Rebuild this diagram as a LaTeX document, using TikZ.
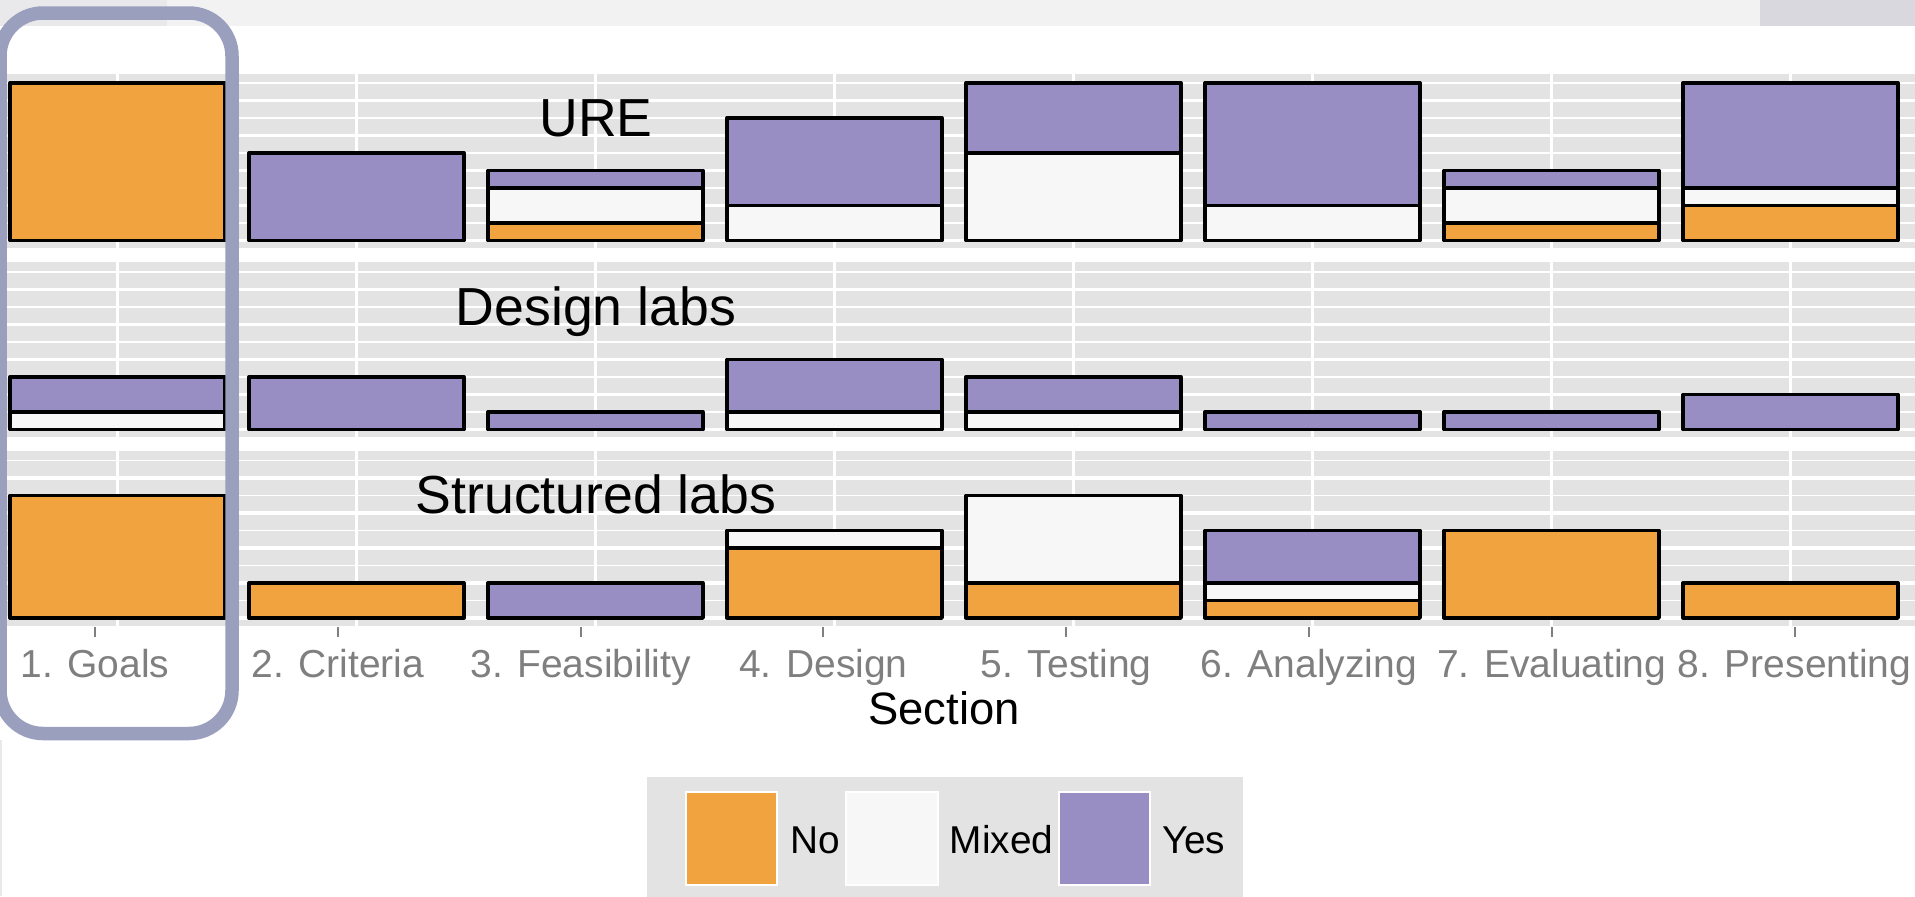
\documentclass[tikz,border=0pt]{standalone}
\usepackage{fontspec}
\setmainfont{Liberation Sans}
\definecolor{cNo}{HTML}{F1A340}
\definecolor{cMix}{HTML}{F7F7F7}
\definecolor{cYes}{HTML}{998EC3}
\definecolor{panelbg}{HTML}{E3E3E3}
\definecolor{hilite}{RGB}{154,159,189}
\definecolor{ticktext}{HTML}{7F7F7F}
\definecolor{stripA}{HTML}{F2F2F2}
\definecolor{stripB}{HTML}{D9D8DE}
\definecolor{stripC}{HTML}{E9E9EC}
\tikzset{
  seg/.style={draw=black, line width=1.65pt, line join=round},
  majorgrid/.style={draw=white, line width=1.6pt},
  minorgrid/.style={draw=white, line width=0.8pt},
  panellabel/.style={anchor=base, inner sep=0pt, font=\fontsize{26.8}{30}\selectfont},
  ticklabel/.style={anchor=base, inner sep=0pt, text=ticktext, font=\fontsize{19.5}{22}\selectfont},
  axistitle/.style={anchor=base, inner sep=0pt, font=\fontsize{22.7}{26}\selectfont},
  legendlabel/.style={anchor=base west, inner sep=0pt, font=\fontsize{19.4}{22}\selectfont},
  legendkey/.style={draw=white, line width=1pt},
}
\begin{document}
\begin{tikzpicture}[x=0.5pt,y=-0.5pt]
\useasboundingbox (0,0) rectangle (1915,896);
\clip (0,0) rectangle (1915,896);
% top strip of the screenshot
\fill[stripA] (0,0) rectangle (1915,26);
\fill[stripC] (0,0) rectangle (167,26);
\fill[stripB] (1760,0) rectangle (1915,26);
\fill[stripC] (0,740) rectangle (2,896);
% panels: top / bottom / baseline
\foreach \T/\B/\b in {74/248/240.5, 262/437/429.5, 451/626/618}{
  \fill[panelbg] (5,\T) rectangle (1915,\B);
  \foreach \k in {1,3,5,7,9}{
    \draw[minorgrid] (5,{\b-17.5*\k}) -- (1915,{\b-17.5*\k});
  }
  \foreach \k in {0,2,4,6,8}{
    \draw[majorgrid] (5,{\b-17.5*\k}) -- (1915,{\b-17.5*\k});
  }
  \foreach \i in {1,...,8}{
    \draw[majorgrid] ({117.5+239*(\i-1)},\T) -- ({117.5+239*(\i-1)},\B);
  }
}
% bars: column / baseline / No / Mixed / Yes
\foreach \c/\b/\o/\w/\p in {
  1/240.5/9/0/0, 2/240.5/0/0/5, 3/240.5/1/2/1, 4/240.5/0/2/5,
  5/240.5/0/5/4, 6/240.5/0/2/7, 7/240.5/1/2/1, 8/240.5/2/1/6,
  1/429.5/0/1/2, 2/429.5/0/0/3, 3/429.5/0/0/1, 4/429.5/0/1/3,
  5/429.5/0/1/2, 6/429.5/0/0/1, 7/429.5/0/0/1, 8/429.5/0/0/2,
  1/618/7/0/0, 2/618/2/0/0, 3/618/0/0/2, 4/618/4/1/0,
  5/618/2/5/0, 6/618/1/1/3, 7/618/5/0/0, 8/618/2/0/0}{
  \pgfmathsetmacro\xl{10+239*(\c-1)}
  \pgfmathsetmacro\xr{\xl+215}
  \pgfmathsetmacro\ya{\b-17.5*\o}
  \pgfmathsetmacro\yb{\ya-17.5*\w}
  \pgfmathsetmacro\yc{\yb-17.5*\p}
  \ifnum\o>0 \filldraw[seg, fill=cNo] (\xl,\b) rectangle (\xr,\ya); \fi
  \ifnum\w>0 \filldraw[seg, fill=cMix] (\xl,\ya) rectangle (\xr,\yb); \fi
  \ifnum\p>0 \filldraw[seg, fill=cYes] (\xl,\yb) rectangle (\xr,\yc); \fi
}
% panel labels
\node[panellabel] (lblure) at (596,136.7) {URE};
\node[panellabel] (lbldesign) at (596,325) {Design labs};
\node[panellabel] (lblstruct) at (596,513) {Structured labs};
% axis ticks and labels
\foreach \i/\t in {1/1. Goals, 2/2. Criteria, 3/3. Feasibility, 4/4. Design,
  5/5. Testing, 6/6. Analyzing, 7/7. Evaluating, 8/8. Presenting}{
  \draw[ticktext, line width=1pt] ({95+242.8*(\i-1)},627) -- ({95+242.8*(\i-1)},637);
  \node[ticklabel] (tick\i) at ({95+242.8*(\i-1)},677) {\t};
}
\node[axistitle] (section) at (944,724) {Section};
% legend
\fill[panelbg] (647,777) rectangle (1243,900);
\filldraw[legendkey, fill=cNo] (686,792) rectangle (777,885);
\filldraw[legendkey, fill=cMix] (845.5,792) rectangle (938,885);
\filldraw[legendkey, fill=cYes] (1058.5,792) rectangle (1150,885);
\node[legendlabel] (legno) at (790,853) {No};
\node[legendlabel] (legmixed) at (949.5,853) {Mixed};
\node[legendlabel] (legyes) at (1161.6,853) {Yes};
% highlight of the first column
\draw[hilite, line width=6.75pt, rounded corners=21.5pt] (0,13) rectangle (232,733.5);
\end{tikzpicture}
\end{document}
